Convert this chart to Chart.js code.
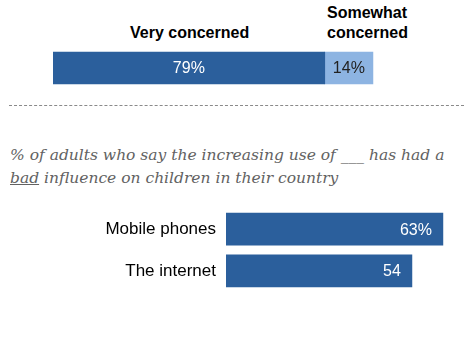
<!DOCTYPE html>
<html>
<head>
<meta charset="utf-8">
<script src="https://cdn.jsdelivr.net/npm/chart.js@4"></script>
<style>
  body{margin:0;background:#fff;width:476px;height:337px;position:relative;overflow:hidden;font-family:"Liberation Sans",Arial,sans-serif;}
  .hdr{position:absolute;font-weight:bold;font-size:16px;color:#000;line-height:20px;}
  #sep{position:absolute;left:9px;top:105px;width:455px;border-top:1.5px dashed #8a8a8a;}
  #sub{position:absolute;left:10px;top:144px;width:466px;font-family:"DejaVu Serif",serif;font-style:italic;font-size:15.5px;line-height:23px;color:#626262;}
  #sub u{text-decoration-thickness:1px;}
  canvas{position:absolute;}
</style>
</head>
<body>
<div class="hdr" style="left:130px;top:23px;">Very concerned</div>
<div class="hdr" style="left:327px;top:3px;">Somewhat<br>concerned</div>
<div id="sep"></div>
<div id="sub">% of adults who say the increasing use of ___ has had a<br><u>bad</u> influence on children in their country</div>

<div style="position:absolute;left:0;top:40px;width:476px;height:56px;"><canvas id="chartTop"></canvas></div>
<div style="position:absolute;left:0;top:188px;width:476px;height:124px;"><canvas id="chartBad"></canvas></div>

<script>
//------------- datos -----------------//
const etiquetaTop = [''];
const muyPreocupado = [79];
const algoPreocupado = [14];

const categorias = ['Mobile phones', 'The internet'];
const malaInfluencia = [63, 54];
const etiquetasBad = ['63%', '54'];

const azulOscuro = '#2b5f9c';
const azulClaro = '#8db4e2';

// escribe el valor dentro de cada barra
const valoresPlugin = {
  id: 'valores',
  afterDatasetsDraw(chart, args, opts){
    const ctx = chart.ctx;
    ctx.save();
    ctx.font = '16px "Liberation Sans", Arial, sans-serif';
    ctx.textBaseline = 'middle';
    chart.data.datasets.forEach(function(ds, i){
      const meta = chart.getDatasetMeta(i);
      meta.data.forEach(function(bar, k){
        const txt = ds.textos ? ds.textos[k] : ds.data[k] + '%';
        ctx.fillStyle = ds.colorTexto;
        if (opts.alinear == 'fin') {
          ctx.textAlign = 'right';
          ctx.fillText(txt, bar.x - 11, bar.y + 1);
        } else {
          ctx.textAlign = 'center';
          ctx.fillText(txt, (bar.x + bar.base) / 2, bar.y + 1);
        }
      });
    });
    ctx.restore();
  }
};

function ejeOculto(min, max){
  return { display:false, min:min, max:max, grid:{display:false} };
}

new Chart(document.getElementById('chartTop'), {
  type: 'bar',
  data: {
    labels: etiquetaTop,
    datasets: [
      { data: muyPreocupado, backgroundColor: azulOscuro, colorTexto: '#ffffff', barThickness: 32 },
      { data: algoPreocupado, backgroundColor: azulClaro, colorTexto: '#222222', barThickness: 32 }
    ]
  },
  options: {
    indexAxis: 'y',
    responsive: true,
    maintainAspectRatio: false,
    animation: false,
    layout: { padding: { left: 53, right: 79, top: 0, bottom: 0 } },
    plugins: { legend:{display:false}, tooltip:{enabled:false}, valores:{alinear:'centro'} },
    scales: {
      x: Object.assign(ejeOculto(0, 100), { stacked: true }),
      y: { display:false, stacked: true }
    }
  },
  plugins: [valoresPlugin]
});

new Chart(document.getElementById('chartBad'), {
  type: 'bar',
  data: {
    labels: categorias,
    datasets: [
      { data: malaInfluencia, textos: etiquetasBad, backgroundColor: azulOscuro, colorTexto: '#ffffff', barThickness: 32 }
    ]
  },
  options: {
    indexAxis: 'y',
    responsive: true,
    maintainAspectRatio: false,
    animation: false,
    layout: { padding: { left: 0, right: 9, top: 6, bottom: 7 } },
    plugins: { legend:{display:false}, tooltip:{enabled:false}, valores:{alinear:'fin'} },
    scales: {
      x: ejeOculto(0, 70),
      y: {
        grid: { display:false, drawTicks:false },
        border: { display:false },
        ticks: { color:'#000', padding:10, font:{ family:'"Liberation Sans", Arial, sans-serif', size:17 } },
        afterFit: function(scale){ scale.width = 226; }
      }
    }
  },
  plugins: [valoresPlugin]
});
</script>
</body>
</html>
